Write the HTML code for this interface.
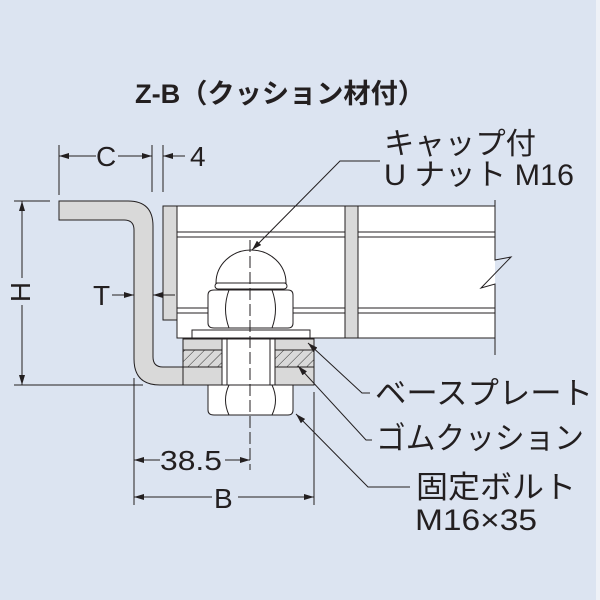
<!DOCTYPE html>
<html><head><meta charset="utf-8"><style>
body{margin:0;background:#fff}
svg{display:block}
text{font-family:"Liberation Sans","Noto Sans CJK JP",sans-serif;fill:#231f20}
</style></head><body>
<svg width="600" height="600" viewBox="0 0 600 600" xmlns="http://www.w3.org/2000/svg">
<defs>
<marker id="a" viewBox="0 0 10 6" refX="10" refY="3" markerWidth="10" markerHeight="6" orient="auto-start-reverse" markerUnits="userSpaceOnUse"><path d="M0,0L10,3L0,6z" fill="#231f20"/></marker>
<pattern id="h" width="7" height="7" patternUnits="userSpaceOnUse" patternTransform="rotate(45)"><rect width="7" height="7" fill="#d9d9d9"/><line x1="0" y1="0" x2="0" y2="7" stroke="#333" stroke-width="1"/></pattern>
</defs>
<rect x="0" y="0" width="596" height="600" fill="#dce4f1"/>
<rect x="596" y="0" width="4" height="600" fill="#eef1f7"/>

<text x="135" y="103" font-size="27" font-weight="bold" textLength="290" lengthAdjust="spacingAndGlyphs">Z-B（クッション材付）</text>

<g stroke="#231f20" stroke-width="1" fill="none">
<!-- grating frame -->
<rect x="177" y="206" width="318" height="132" fill="#fff" stroke="none"/>
<polyline points="495,206 177,206 177,338 495,338"/>
<line x1="177" y1="232" x2="495" y2="232"/><line x1="177" y1="237" x2="495" y2="237"/>
<line x1="177" y1="308" x2="495" y2="308"/><line x1="177" y1="313" x2="495" y2="313"/>
<rect x="345" y="206" width="13" height="132" fill="#d9d9d9"/>
<rect x="163" y="206" width="14" height="114" fill="#d9d9d9"/>
<path d="M495,200 L495,260 L511,257 L481,288 L495,284 L495,355"/>

<!-- Z bracket -->
<path d="M59,201 L128,201 Q153,201 153,226 L153,357 Q153,367 163,367 L220,367 L220,385 L160,385 Q134,385 134,359 L134,230 Q134,220 124,220 L59,220 Z" fill="#d9d9d9"/>

<!-- base plate/rubber -->
<rect x="183" y="339" width="131" height="46" fill="#d9d9d9"/>
<rect x="183" y="350" width="131" height="17" fill="url(#h)"/>
<line x1="183" y1="350" x2="314" y2="350"/><line x1="183" y1="367" x2="314" y2="367"/>
<rect x="222" y="339" width="53" height="46" fill="#fff"/>
<line x1="227" y1="339" x2="227" y2="385"/><line x1="270" y1="339" x2="270" y2="385"/>

<!-- washer -->
<rect x="192" y="330" width="118" height="8" fill="#fff"/>
<!-- cap nut -->
<path d="M216,283 A35,33 0 0 1 286,283 Z" fill="#fff"/>
<rect x="215" y="283" width="72" height="6" rx="3" fill="#fff"/>
<path d="M208,295 Q208,290 214,290 L288,290 Q293,290 293,295 L293,323 Q293,328 288,328 L214,328 Q208,328 208,323 Z" fill="#fff"/>
<path d="M229,290 Q222,309 229,328 M272,290 Q279,309 272,328"/>
<!-- bottom nut -->
<path d="M208,385 L293,385 L293,410 Q293,415 288,415 L214,415 Q208,415 208,410 Z" fill="#fff"/>
<path d="M229,385 Q222,400 229,415 M272,385 Q279,400 272,415"/>
<line x1="250" y1="240" x2="250" y2="470" stroke-dasharray="12,4"/>

<!-- dims -->
<line x1="59" y1="145" x2="59" y2="195"/>
<line x1="152" y1="145" x2="152" y2="192"/>
<line x1="163" y1="145" x2="163" y2="192"/>
<line x1="59" y1="156" x2="96" y2="156" marker-start="url(#a)"/>
<line x1="118" y1="156" x2="152" y2="156" marker-end="url(#a)"/>
<line x1="163" y1="156" x2="185" y2="156" marker-start="url(#a)"/>
<line x1="14" y1="201" x2="50" y2="201"/>
<line x1="14" y1="385" x2="143" y2="385"/>
<line x1="22" y1="201" x2="22" y2="278" marker-start="url(#a)"/>
<line x1="22" y1="305" x2="22" y2="385" marker-end="url(#a)"/>
<line x1="112" y1="295" x2="134" y2="295" marker-end="url(#a)"/>
<line x1="175" y1="295" x2="153" y2="295" marker-end="url(#a)"/>
<line x1="134" y1="378" x2="134" y2="505"/>
<line x1="314" y1="392" x2="314" y2="505"/>
<line x1="134" y1="460" x2="160" y2="460" marker-start="url(#a)"/>
<line x1="225" y1="460" x2="250" y2="460" marker-end="url(#a)"/>
<line x1="134" y1="497" x2="212" y2="497" marker-start="url(#a)"/>
<line x1="238" y1="497" x2="314" y2="497" marker-end="url(#a)"/>

<!-- leaders -->
<polyline points="380,161 340,161 252,250" marker-end="url(#a)"/>
<polyline points="370,393 362,393 308,343" marker-end="url(#a)"/>
<polyline points="372,440 366,440 298,366" marker-end="url(#a)"/>
<polyline points="410,487 368,487 296,414" marker-end="url(#a)"/>
</g>

<g font-size="28">
<text x="96" y="166">C</text>
<text x="190" y="166">4</text>
<text x="0" y="0" transform="translate(30,292) rotate(-90)" text-anchor="middle" font-size="28">H</text>
<text x="93" y="305">T</text>
<text x="160" y="470" textLength="62" lengthAdjust="spacingAndGlyphs">38.5</text>
<text x="214" y="508">B</text>
<text x="384" y="154" font-size="30" textLength="152" lengthAdjust="spacingAndGlyphs">キャップ付</text>
<text x="384" y="185" font-size="30" textLength="190" lengthAdjust="spacingAndGlyphs">U ナット M16</text>
<text x="375" y="404" font-size="31" textLength="218" lengthAdjust="spacingAndGlyphs">ベースプレート</text>
<text x="376" y="449" font-size="31" textLength="208" lengthAdjust="spacingAndGlyphs">ゴムクッション</text>
<text x="416" y="498" font-size="31" textLength="160" lengthAdjust="spacingAndGlyphs">固定ボルト</text>
<text x="415" y="530" font-size="30" textLength="122" lengthAdjust="spacingAndGlyphs">M16×35</text>
</g>
</svg>
</body></html>
